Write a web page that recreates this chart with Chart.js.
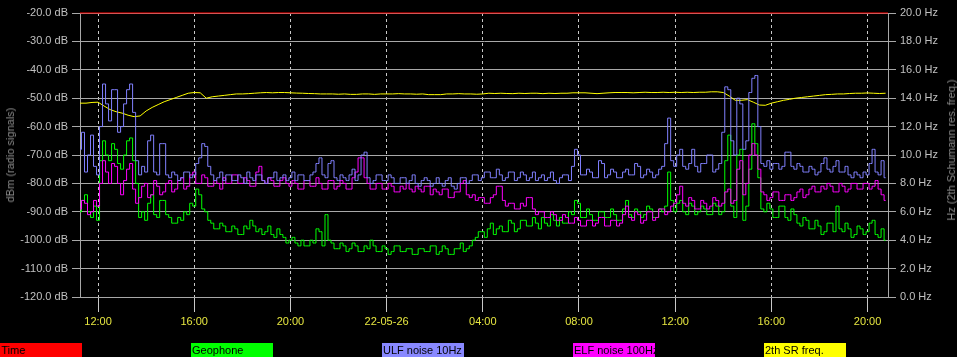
<!DOCTYPE html>
<html>
<head>
<meta charset="utf-8">
<script src="https://cdn.jsdelivr.net/npm/chart.js@4/dist/chart.umd.min.js"></script>
<style>
html,body{margin:0;padding:0;background:#000;}
#wrap{position:relative;width:957px;height:357px;background:#000;overflow:hidden;font-family:"Liberation Sans",Arial,sans-serif;}
#c{position:absolute;left:0;top:0;}
.ytitle{position:absolute;color:#8c8c8c;font-size:11px;white-space:nowrap;transform:translate(-50%,-50%) rotate(-90deg);}
.leg{position:absolute;top:343px;height:14px;width:82px;font-size:11px;line-height:14px;color:#000;padding-left:1px;box-sizing:border-box;white-space:nowrap;overflow:hidden;}
</style>
</head>
<body>
<div id="wrap">
<canvas id="c" width="957" height="357"></canvas>
<div class="ytitle" style="left:10px;top:155px;">dBm (radio signals)</div>
<div class="ytitle" style="left:951px;top:150px;">Hz (2th Schumann res. freq.)</div>
<div id="legend"></div>
</div>
<script>
// ---- DATA ----
// time in hours since 22-05-25 00:00, starting 11:15
const startHour = 11.25;
const noiseStep = 0.125;   // step of the three radio series
const freqStep = 0.25;     // step of the SR frequency series
const endHourAxis = 44.85;
const tickHours = [12, 16, 20, 24, 28, 32, 36, 40, 44];
const tickLabels = ["12:00", "16:00", "20:00", "22-05-26", "04:00", "08:00", "12:00", "16:00", "20:00"];
const seriesNames = ["Time", "Geophone", "ULF noise 10Hz", "ELF noise 100Hz", "2th SR freq."];
const seriesColors = ["#ff0000", "#00ff00", "#8888ff", "#ff00ff", "#ffff00"];

const timeLevel = [-20, -20];

const geophone = [
-90,-86,-84,-90,-92,-88,-93,-72,-65,-70,
-72,-66,-68,-73,-75,-70,-65,-64,-72,-80,
-92,-90,-93,-87,-84,-91,-92,-86,-86,-91,
-92,-94,-94,-92,-93,-90,-91,-87,-88,-82,
-84,-89,-90,-93,-94,-96,-96,-94,-95,-97,
-97,-95,-96,-98,-98,-95,-96,-93,-95,-97,
-96,-98,-97,-95,-98,-99,-96,-98,-99,-101,
-100,-99,-101,-102,-100,-102,-102,-100,-101,-96,
-97,-102,-91,-100,-101,-103,-103,-101,-102,-104,
-103,-101,-102,-104,-104,-102,-103,-100,-102,-104,
-104,-102,-103,-105,-104,-102,-102,-104,-104,-103,
-103,-105,-105,-103,-103,-104,-104,-102,-102,-105,
-104,-102,-103,-105,-105,-103,-103,-101,-104,-103,
-102,-100,-99,-97,-97,-99,-96,-94,-98,-96,
-95,-97,-97,-93,-94,-97,-96,-93,-93,-95,
-95,-92,-94,-96,-92,-94,-95,-91,-93,-95,
-92,-94,-94,-90,-91,-86,-87,-92,-92,-89,
-91,-93,-93,-90,-90,-92,-92,-89,-91,-93,
-93,-89,-86,-91,-92,-89,-90,-92,-91,-88,
-89,-92,-92,-89,-90,-88,-76,-86,-90,-87,
-86,-90,-91,-87,-88,-91,-90,-88,-89,-91,
-91,-87,-88,-91,-90,-72,-63,-88,-92,-70,
-68,-93,-88,-75,-59,-66,-78,-89,-90,-87,
-89,-92,-92,-88,-88,-92,-93,-89,-91,-94,
-95,-92,-93,-96,-96,-93,-95,-98,-97,-94,
-94,-97,-88,-96,-97,-94,-96,-99,-98,-95,
-96,-98,-97,-94,-93,-98,-99,-96,-100
];

const ulfNoise = [
-68,-62,-76,-70,-63,-74,-77,-60,-45,-52,
-58,-47,-47,-62,-60,-52,-47,-45,-55,-72,
-77,-74,-76,-65,-63,-76,-77,-66,-66,-77,
-78,-76,-77,-79,-78,-76,-76,-78,-77,-73,
-71,-66,-67,-74,-77,-79,-78,-76,-79,-77,
-77,-79,-79,-77,-78,-80,-76,-78,-79,-77,
-77,-79,-80,-78,-78,-76,-79,-78,-77,-79,
-78,-76,-79,-77,-77,-79,-79,-77,-76,-73,
-71,-77,-78,-73,-72,-78,-79,-77,-78,-79,
-77,-75,-79,-77,-70,-69,-78,-80,-79,-77,
-77,-79,-79,-77,-78,-80,-80,-78,-78,-80,
-79,-77,-80,-81,-79,-78,-79,-81,-80,-78,
-80,-81,-79,-78,-81,-82,-80,-78,-78,-80,
-79,-77,-77,-79,-78,-76,-76,-78,-78,-75,
-77,-79,-78,-76,-76,-79,-78,-76,-77,-79,
-78,-76,-79,-78,-77,-79,-78,-76,-79,-80,
-78,-77,-77,-79,-74,-68,-70,-77,-77,-75,
-76,-78,-78,-72,-73,-78,-77,-75,-76,-78,
-78,-76,-75,-77,-77,-73,-74,-78,-77,-75,
-76,-78,-77,-75,-74,-66,-57,-72,-74,-70,
-68,-74,-75,-73,-68,-74,-76,-73,-73,-70,
-70,-76,-75,-73,-62,-46,-47,-65,-70,-50,
-52,-68,-65,-48,-43,-42,-60,-73,-74,-72,
-75,-73,-73,-75,-74,-69,-69,-74,-75,-73,
-74,-76,-76,-74,-75,-77,-76,-73,-71,-75,
-76,-74,-72,-76,-76,-74,-77,-78,-76,-77,
-78,-76,-77,-73,-68,-76,-77,-72,-78
];

const elfNoise = [
-89,-86,-87,-91,-90,-86,-88,-80,-72,-76,
-80,-73,-74,-80,-84,-79,-75,-73,-82,-87,
-85,-81,-80,-85,-84,-79,-81,-84,-83,-80,
-79,-83,-82,-79,-78,-82,-81,-77,-76,-80,
-80,-77,-78,-81,-81,-79,-80,-82,-78,-80,
-80,-77,-77,-80,-80,-78,-79,-81,-81,-76,
-74,-79,-80,-78,-79,-81,-81,-79,-78,-80,
-81,-79,-80,-82,-82,-79,-79,-81,-81,-78,
-80,-82,-82,-79,-79,-82,-81,-79,-80,-82,
-82,-78,-76,-71,-71,-78,-80,-82,-82,-80,
-80,-82,-82,-80,-81,-83,-83,-81,-82,-80,
-82,-83,-81,-82,-83,-81,-81,-84,-82,-83,
-84,-82,-82,-85,-85,-83,-83,-80,-79,-84,
-85,-84,-86,-85,-85,-87,-87,-85,-84,-81,
-81,-86,-88,-87,-87,-89,-89,-87,-88,-85,
-85,-89,-91,-90,-90,-92,-92,-90,-91,-93,
-93,-91,-92,-94,-94,-92,-93,-95,-95,-93,
-93,-95,-94,-92,-92,-95,-95,-93,-93,-95,
-94,-91,-88,-92,-93,-90,-91,-94,-93,-90,
-90,-93,-92,-89,-89,-91,-90,-88,-87,-84,
-81,-87,-88,-85,-86,-89,-89,-86,-87,-89,
-88,-85,-86,-88,-87,-83,-82,-87,-86,-75,
-72,-84,-80,-70,-66,-70,-75,-83,-84,-86,
-85,-83,-83,-86,-86,-84,-84,-86,-85,-83,
-82,-85,-84,-82,-81,-83,-83,-81,-82,-80,
-81,-83,-83,-80,-81,-83,-82,-80,-80,-82,
-82,-80,-80,-82,-81,-79,-82,-84,-86
];

const srFreq = [
13.65,13.65,13.7,13.72,13.45,13.2,13.05,12.95,12.8,12.7,
12.75,13.1,13.35,13.55,13.75,13.9,14.05,14.2,14.35,14.4,
14.38,14.0,14.1,14.15,14.2,14.25,14.3,14.3,14.32,14.35,
14.38,14.4,14.38,14.4,14.4,14.38,14.36,14.35,14.33,14.32,
14.3,14.3,14.3,14.28,14.3,14.27,14.27,14.3,14.3,14.27,
14.3,14.3,14.3,14.32,14.3,14.3,14.28,14.3,14.25,14.25,
14.25,14.3,14.3,14.32,14.3,14.3,14.28,14.3,14.35,14.33,
14.35,14.33,14.32,14.35,14.33,14.35,14.35,14.32,14.35,14.33,
14.35,14.35,14.38,14.38,14.38,14.35,14.32,14.35,14.38,14.4,
14.4,14.4,14.38,14.4,14.42,14.4,14.4,14.42,14.4,14.42,
14.4,14.42,14.4,14.42,14.42,14.45,14.45,14.4,14.15,13.85,
13.85,13.9,13.72,13.52,13.5,13.65,13.75,13.85,13.92,14.0,
14.05,14.1,14.15,14.2,14.25,14.27,14.3,14.3,14.33,14.35,
14.35,14.37,14.35,14.33,14.35
];

// ---- BUILD ----
const toPts = (arr, step) => arr.map((v, i) => ({x: startHour + i * step, y: v}));

const legendEl = document.getElementById('legend');
seriesNames.forEach((n, i) => {
  const d = document.createElement('div');
  d.className = 'leg';
  d.style.left = (i * 191) + 'px';
  d.style.background = seriesColors[i];
  d.textContent = n;
  legendEl.appendChild(d);
});

Chart.defaults.font.family = '"Liberation Sans", Arial, sans-serif';
Chart.defaults.font.size = 11;

const line = (label, data, color, axis, extra) => Object.assign({
  label, data, borderColor: color, backgroundColor: color, borderWidth: 1,
  pointRadius: 0, tension: 0, yAxisID: axis, fill: false
}, extra || {});

new Chart(document.getElementById('c'), {
  type: 'line',
  data: {
    datasets: [
      line(seriesNames[2], toPts(ulfNoise, noiseStep), '#8080ff', 'y', {stepped: 'middle'}),
      line(seriesNames[3], toPts(elfNoise, noiseStep), '#ff00ff', 'y', {stepped: 'middle'}),
      line(seriesNames[1], toPts(geophone, noiseStep), '#00ff00', 'y', {stepped: 'middle'}),
      line(seriesNames[4], toPts(srFreq, freqStep), '#ffff00', 'y1'),
      line(seriesNames[0], [{x: startHour, y: timeLevel[0]}, {x: endHourAxis, y: timeLevel[1]}], '#ff0000', 'y', {clip: false})
    ]
  },
  options: {
    responsive: false,
    devicePixelRatio: 1,
    animation: false,
    layout: {padding: {top: 13, left: 0, right: 0, bottom: 0}},
    plugins: {legend: {display: false}, tooltip: {enabled: false}, title: {display: false}},
    scales: {
      x: {
        type: 'linear', min: startHour, max: endHourAxis,
        afterBuildTicks: s => { s.ticks = tickHours.map(v => ({value: v})); },
        afterFit: s => { s.height = 60; },
        ticks: {
          color: '#e6e640', padding: 3, maxRotation: 0, autoSkip: false,
          callback: v => { const k = tickHours.indexOf(v); return k >= 0 ? tickLabels[k] : ''; }
        },
        grid: {color: '#c8c8c8', lineWidth: 1, tickLength: 15, drawOnChartArea: true},
        border: {display: false, dash: [3, 3]}
      },
      y: {
        position: 'left', min: -120, max: -20,
        afterFit: s => { s.width = 80; },
        ticks: {stepSize: 10, color: '#c0c0c0', padding: 4, callback: v => v.toFixed(1) + ' dB'},
        grid: {color: '#a8a8a8', lineWidth: 1, tickLength: 8},
        border: {display: true, color: '#a8a8a8'}
      },
      y1: {
        position: 'right', min: 0, max: 20,
        afterFit: s => { s.width = 69; },
        ticks: {stepSize: 2, color: '#c0c0c0', padding: 4, callback: v => v.toFixed(1) + ' Hz'},
        grid: {color: '#a8a8a8', lineWidth: 1, tickLength: 8, drawOnChartArea: false},
        border: {display: true, color: '#a8a8a8'}
      }
    }
  }
});
</script>
</body>
</html>
